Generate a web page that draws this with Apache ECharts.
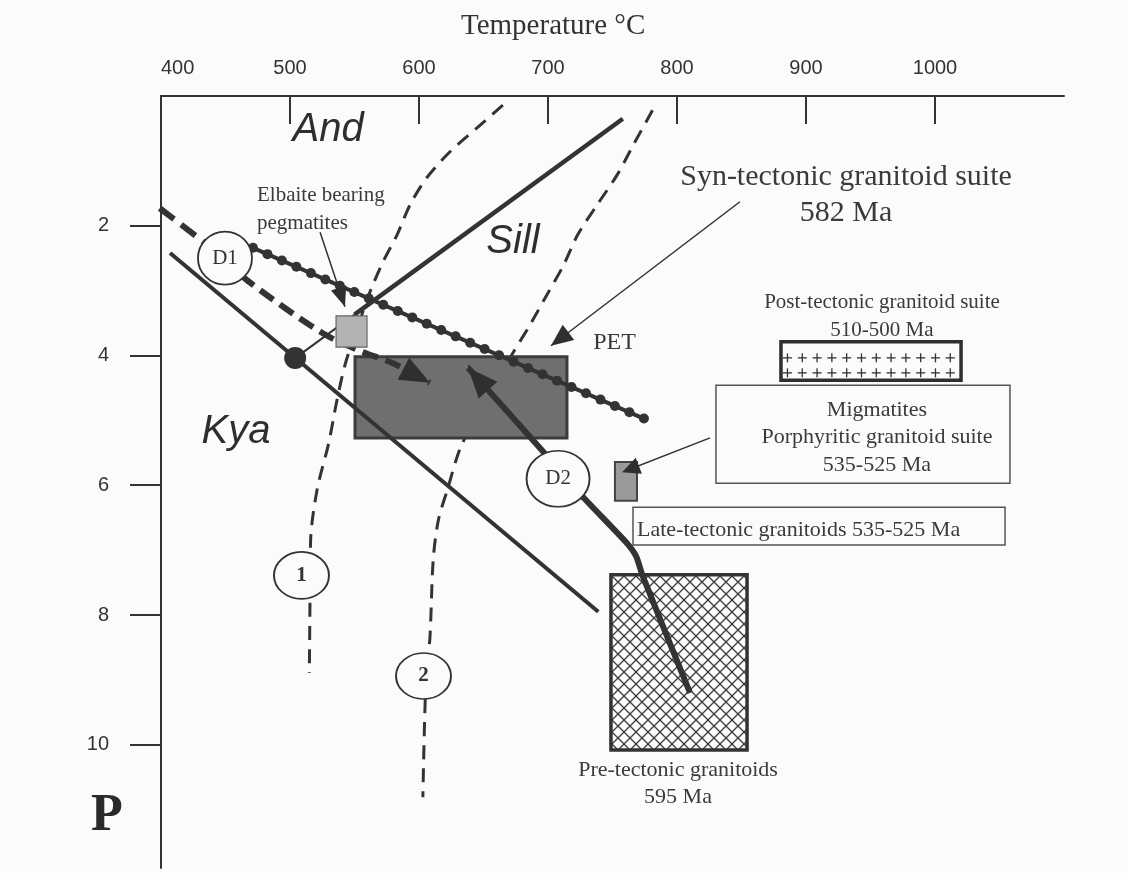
<!DOCTYPE html>
<html>
<head>
<meta charset="utf-8">
<script src="https://cdn.jsdelivr.net/npm/echarts@6/dist/echarts.min.js"></script>
<style>
html,body{margin:0;padding:0;background:#fbfbfb;}
#main{width:1128px;height:873px;}
</style>
</head>
<body>
<div id="main"></div>
<script>
// axis ticks
var tempTicks = [400, 500, 600, 700, 800, 900, 1000];
var presTicks = [2, 4, 6, 8, 10];

// Al2SiO5 lines  [T °C, P kbar]
var kyaLine = [[407, 2.42], [739, 7.95]];
var andSillThin = [[504, 4.04], [550, 3.37]];
var andSillThick = [[550, 3.37], [758, 0.35]];
var triplePoint = [[504, 4.04]];

// dashed curves 1 and 2
var curve1 = [[665, 0.14], [645, 0.49], [624, 0.86], [606, 1.26], [593, 1.68], [583, 2.14], [572, 2.56], [562, 3.02],
  [553, 3.53], [543, 4.12], [536, 4.73], [530, 5.35], [521, 6.07], [516, 6.84], [515.5, 7.77], [515, 8.89]];
var curve2 = [[781, 0.22], [766, 0.76], [753.5, 1.22], [738, 1.68], [723, 2.14], [712, 2.61], [699, 3.07], [686, 3.53],
  [672, 3.99], [653, 4.69], [633, 5.38], [622, 6.07], [615, 6.54], [611, 7.15], [608.5, 8.34], [605.4, 9.0], [603, 10.81]];

// PET line, D1 and D2 paths
var petLine = [[471.3, 2.34], [775.2, 4.98]];
var d1Lead = [[399, 1.73], [449.6, 2.50]];
var d1Path = [[449.6, 2.50], [466.7, 2.84], [524.8, 3.65], [554.3, 3.93], [579.8, 4.12], [608.5, 4.42]];
var d2Path = [[810.1, 9.20], [773.6, 7.41], [768.2, 7.09], [759.7, 6.86], [727.1, 6.18], [695.3, 5.46], [638.0, 4.19]];

// pointer lines
var elbaitePointer = [[523.3, 2.10], [542.6, 3.25]];
var synPointer = [[848.8, 1.63], [702.3, 3.85]];
var migPointer = [[825.6, 5.27], [757.4, 5.80]];

// boxes [T1, P1, T2, P2]
var synBox = [550.4, 4.02, 714.7, 5.27];
var elbaiteBox = [535.7, 3.39, 559.7, 3.87];
var migBox = [751.9, 5.64, 769.0, 6.24];
var postBox = [880.6, 3.79, 1020.2, 4.38];
var preBox = [748.8, 7.38, 854.3, 10.08];
var migLabelBox = [830.2, 4.46, 1058.1, 5.97];
var lateLabelBox = [765.9, 6.34, 1054.3, 6.92];

// circled markers
var circleAt = [[449.6, 2.50], [707.8, 5.90], [508.9, 7.39], [603.5, 8.94]];
var circleText = ['D1', 'D2', '1', '2'];

// annotations
var labelText = ['And', 'Sill', 'Kya', 'Elbaite bearing', 'pegmatites', 'PET',
  'Syn-tectonic granitoid suite', '582 Ma', 'Post-tectonic granitoid suite', '510-500 Ma',
  'Migmatites', 'Porphyritic granitoid suite', '535-525 Ma',
  'Late-tectonic granitoids 535-525 Ma', 'Pre-tectonic granitoids', '595 Ma'];
var labelAt = [[529.5, 0.52], [672.9, 2.25], [458.1, 5.17], [474.4, 1.53], [474.4, 1.96], [751.6, 3.81],
  [931, 1.25], [931, 1.80], [958.9, 3.18], [958.9, 3.61],
  [955, 4.84], [955, 5.26], [955, 5.69],
  [769, 6.69], [800.8, 10.39], [800.8, 10.81]];

var ink = '#333';
var serif = '"Liberation Serif", "Times New Roman", serif';
var sans = '"Liberation Sans", Arial, sans-serif';
var paper = '#fbfbfb';

//字体样式
var labelFont = [
  'italic 40px ' + sans, 'italic 40px ' + sans, 'italic 40px ' + sans,
  '21px ' + serif, '21px ' + serif, '24px ' + serif,
  '30px ' + serif, '30px ' + serif, '21px ' + serif, '21px ' + serif,
  '22px ' + serif, '22px ' + serif, '22px ' + serif,
  '22px ' + serif, '22px ' + serif, '22px ' + serif];
var labelAlign = ['center', 'center', 'center', 'left', 'left', 'center',
  'center', 'center', 'center', 'center', 'center', 'center', 'center', 'left', 'center', 'center'];

// crosshatch for the pre-tectonic box
var diamond = document.createElement('canvas');
diamond.width = 12; diamond.height = 12;
(function () {
  var g = diamond.getContext('2d');
  g.fillStyle = paper; g.fillRect(0, 0, 12, 12);
  g.strokeStyle = '#3a3a3a'; g.lineWidth = 1.3;
  g.beginPath();
  g.moveTo(0, 0); g.lineTo(12, 12);
  g.moveTo(12, 0); g.lineTo(0, 12);
  g.stroke();
})();

function lineSeries(data, width, dash, z, smooth) {
  return {
    type: 'line', data: data, symbol: 'none', silent: true, z: z || 3,
    smooth: smooth || false,
    lineStyle: {color: ink, width: width, type: dash || 'solid', cap: 'butt'}
  };
}

function boxSeries(box, z, draw) {
  return {
    type: 'custom', z: z, silent: true,
    data: [box],
    encode: {x: [0, 2], y: [1, 3]},
    renderItem: function (params, api) {
      var a = api.coord([api.value(0), api.value(1)]);
      var b = api.coord([api.value(2), api.value(3)]);
      return draw(a[0], a[1], b[0] - a[0], b[1] - a[1]);
    }
  };
}

function plainBox(fill, stroke, lw) {
  return function (x, y, w, h) {
    return {type: 'rect', shape: {x: x, y: y, width: w, height: h}, style: {fill: fill, stroke: stroke, lineWidth: lw}};
  };
}

// arrowheads at the end of paths
var arrowPaths = [d1Path, d2Path, elbaitePointer, synPointer, migPointer];
var arrowSize = [[30, 12.5], [30, 12.5], [20, 8], [22, 9.5], [18, 8.5]];

var chart = echarts.init(document.getElementById('main'));
chart.setOption({
  animation: false,
  backgroundColor: paper,
  grid: {left: 161, top: 96, width: 903, height: 772, outerBoundsMode: 'none'},
  graphic: [
    {type: 'text', x: 461, y: 26, style: {text: 'Temperature °C', font: '29px ' + serif, fill: ink, textVerticalAlign: 'middle', verticalAlign: 'middle'}},
    {type: 'text', x: 91, y: 817, style: {text: 'P', font: 'bold 52px ' + serif, fill: '#2a2a2a', textVerticalAlign: 'middle', verticalAlign: 'middle'}}
  ],
  xAxis: {
    type: 'value', position: 'top', min: 400, max: 1100,
    axisLine: {show: true, onZero: false, lineStyle: {color: ink, width: 2}},
    axisTick: {show: true, inside: true, length: 28, customValues: tempTicks.slice(1), lineStyle: {color: ink, width: 2}},
    axisLabel: {customValues: tempTicks, margin: 18, fontSize: 20, color: '#333', fontFamily: sans, alignMinLabel: 'left',
      formatter: function (v) { return String(v); }},
    splitLine: {show: false}
  },
  yAxis: {
    type: 'value', inverse: true, min: 0, max: 11.9,
    axisLine: {show: true, onZero: false, lineStyle: {color: ink, width: 2}},
    axisTick: {show: true, inside: false, length: 31, customValues: presTicks, lineStyle: {color: ink, width: 2}},
    axisLabel: {customValues: presTicks, margin: 52, fontSize: 20, color: '#333', fontFamily: sans,
      formatter: function (v) { return String(v); }},
    splitLine: {show: false}
  },
  series: [
    // label boxes and the buried curve
    boxSeries(migLabelBox, 1, plainBox(paper, '#555', 1.5)),
    boxSeries(lateLabelBox, 1, plainBox(paper, '#555', 1.5)),
    lineSeries(curve2, 3, [14, 9], 1, 0.3),
    boxSeries(preBox, 1, function (x, y, w, h) {
      return {type: 'rect', shape: {x: x, y: y, width: w, height: h},
        style: {fill: {image: diamond, repeat: 'repeat'}, stroke: '#333', lineWidth: 3.5}};
    }),
    boxSeries(synBox, 2, plainBox('#6f6f6f', '#3c3c3c', 3)),
    boxSeries(postBox, 2, function (x, y, w, h) {
      var kids = [{type: 'rect', shape: {x: x, y: y, width: w, height: h}, style: {fill: paper, stroke: '#2e2e2e', lineWidth: 3.5}}];
      for (var r = 0; r < 2; r++) {
        for (var cx = x + 6.5; cx < x + w - 4; cx += 14.8) {
          var cy = y + 16 + r * 15;
          kids.push({type: 'line', shape: {x1: cx - 4.5, y1: cy, x2: cx + 4.5, y2: cy}, style: {stroke: ink, lineWidth: 1.3}});
          kids.push({type: 'line', shape: {x1: cx, y1: cy - 4.5, x2: cx, y2: cy + 4.5}, style: {stroke: ink, lineWidth: 1.3}});
        }
      }
      return {type: 'group', children: kids};
    }),

    // reaction lines and paths
    lineSeries(kyaLine, 4),
    lineSeries(andSillThin, 2),
    lineSeries(andSillThick, 4.5),
    lineSeries(curve1, 3, [14, 9], 3, 0.3),
    lineSeries(d1Lead, 6, [18, 9]),
    lineSeries(d1Path, 6, [16, 8], 3, 0.3),
    lineSeries(d2Path, 6, 'solid', 3, 0.2),
    lineSeries(elbaitePointer, 1.5),
    lineSeries(synPointer, 1.5),
    lineSeries(migPointer, 1.5),
    {
      type: 'custom', z: 3, silent: true, data: [petLine[0].concat(petLine[1])],
      renderItem: function (params, api) {
        var a = api.coord([api.value(0), api.value(1)]);
        var b = api.coord([api.value(2), api.value(3)]);
        var dx = b[0] - a[0], dy = b[1] - a[1], len = Math.sqrt(dx * dx + dy * dy);
        var kids = [{type: 'line', shape: {x1: a[0], y1: a[1], x2: b[0], y2: b[1]}, style: {stroke: ink, lineWidth: 4}}];
        for (var s = 0; s <= len + 0.5; s += 15.8) {
          kids.push({type: 'circle', shape: {cx: a[0] + dx * s / len, cy: a[1] + dy * s / len, r: 5}, style: {fill: ink}});
        }
        return {type: 'group', children: kids};
      }
    },

    // small squares
    boxSeries(elbaiteBox, 4, plainBox('#b3b3b3', '#666', 1.2)),
    boxSeries(migBox, 4, plainBox('#9a9a9a', '#444', 2)),

    // arrowheads
    {
      type: 'custom', z: 5, silent: true,
      data: arrowPaths.map(function (p, i) {
        var t = p[p.length - 1], f = p[p.length - 2];
        return [t[0], t[1], f[0], f[1], i];
      }),
      encode: {x: [0, 2], y: [1, 3]},
      renderItem: function (params, api) {
        var t = api.coord([api.value(0), api.value(1)]);
        var f = api.coord([api.value(2), api.value(3)]);
        var sz = arrowSize[api.value(4)];
        var dx = t[0] - f[0], dy = t[1] - f[1], l = Math.sqrt(dx * dx + dy * dy);
        var ux = dx / l, uy = dy / l;
        var bx = t[0] - ux * sz[0], by = t[1] - uy * sz[0];
        return {type: 'polygon', shape: {points: [t, [bx - uy * sz[1], by + ux * sz[1]], [bx + uy * sz[1], by - ux * sz[1]]]},
          style: {fill: '#2f2f2f'}};
      }
    },
    {
      type: 'scatter', z: 5, silent: true, data: triplePoint, symbolSize: 22,
      itemStyle: {color: ink, opacity: 1}
    },

    // circled markers
    {
      type: 'scatter', z: 6, silent: true,
      data: circleAt.map(function (c, i) {
        return {value: c, name: circleText[i], symbolSize: [[54, 53], [63, 56], [55, 47], [55, 46]][i],
          label: {fontWeight: i < 2 ? 'normal' : 'bold'}};
      }),
      itemStyle: {color: paper, borderColor: ink, borderWidth: 1.8, opacity: 1},
      label: {show: true, position: 'inside', formatter: '{b}', fontFamily: serif, fontSize: 21, color: ink}
    },

    // annotations
    {
      type: 'custom', z: 7, silent: true,
      data: labelAt.map(function (p, i) { return [p[0], p[1], i]; }),
      renderItem: function (params, api) {
        var i = api.value(2);
        var p = api.coord([api.value(0), api.value(1)]);
        return {type: 'text', x: p[0], y: p[1], style: {
          text: labelText[i], font: labelFont[i], fill: i < 3 ? '#2e2e2e' : '#3a3a3a',
          align: labelAlign[i], textAlign: labelAlign[i], verticalAlign: 'middle', textVerticalAlign: 'middle'}};
      }
    }
  ]
});
</script>
</body>
</html>
